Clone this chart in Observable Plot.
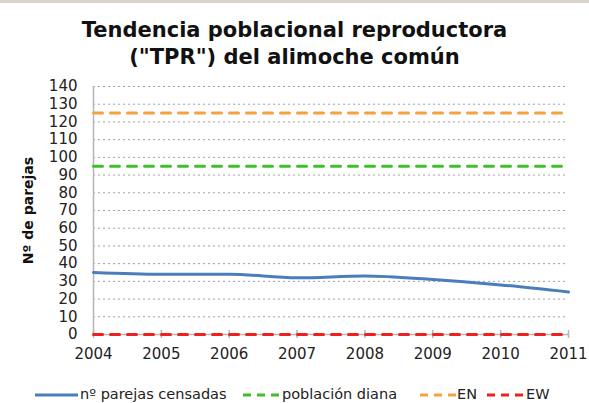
<!DOCTYPE html>
<html>
<head>
<meta charset="utf-8">
<script src="https://cdn.jsdelivr.net/npm/d3@7"></script>
<script src="https://cdn.jsdelivr.net/npm/@observablehq/plot@0.6"></script>
<style>
  html, body { margin: 0; padding: 0; background: #fff; overflow: hidden; }
  body { width: 589px; height: 403px; position: relative; font-family: "DejaVu Sans", Verdana, sans-serif; }
  #topbar { height: 3px; background: #d8d4cc; }
  #title { text-align: center; font-weight: bold; font-size: 21px; line-height: 27px; color: #111; padding-top: 14px; height: 58px; }
  #chart { height: 305px; }
  #legend { position: relative; height: 23px; font-size: 14.5px; color: #222; }
  .sw { position: absolute; top: 12px; }
  .lt { position: absolute; top: 6px; white-space: nowrap; line-height: 17px; }
</style>
</head>
<body>
<div id="topbar"></div>
<div id="title">Tendencia poblacional reproductora<br>("TPR") del alimoche común</div>
<div id="chart"></div>
<div id="legend"></div>
<script>
const years = [2004, 2005, 2006, 2007, 2008, 2009, 2010, 2011];
const censadas = [35, 34, 34, 32, 33, 31, 28, 24];
const diana = [95, 95, 95, 95, 95, 95, 95, 95];
const EN = [125, 125, 125, 125, 125, 125, 125, 125];
const EW = [0, 0, 0, 0, 0, 0, 0, 0];
const yTicks = [0, 10, 20, 30, 40, 50, 60, 70, 80, 90, 100, 110, 120, 130, 140];
const yLabel = "Nº de parejas";

const seriesNames = ["nº parejas censadas", "población diana", "EN", "EW"];
const seriesColors = ["#4a7ebb", "#3fbf2a", "#f5a13c", "#ee2020"];
const seriesDash = [null, "9,8", "9,8", "9,8"];

const rows = (vals) => years.map((y, i) => ({year: y, value: vals[i]}));

const plot = Plot.plot({
  width: 589,
  height: 305,
  marginLeft: 93,
  marginRight: 21,
  marginTop: 11,
  marginBottom: 46,
  style: {fontFamily: "DejaVu Sans, Verdana, sans-serif", fontSize: "15px", color: "#222", background: "white"},
  x: {domain: [years[0], years[years.length - 1]], ticks: years, tickFormat: d => String(d), tickSize: 0, tickPadding: 14, label: null},
  y: {domain: [0, 140], ticks: yTicks, tickSize: 0, tickPadding: 16, label: null},
  marks: [
    Plot.gridY(yTicks.filter(d => d > 0), {stroke: "#a0a0a0", strokeOpacity: 1, strokeDasharray: "2,3"}),
    Plot.ruleX([years[0]], {stroke: "#b5b5b5", strokeWidth: 1.5}),
    Plot.ruleY([0], {stroke: "#b5b5b5", strokeWidth: 1.5}),
    Plot.ruleX(years, {x: d => d, y1: 0, y2: 0, stroke: "#b5b5b5", strokeWidth: 1.5, insetTop: -4, insetBottom: -4}),
    Plot.lineY(rows(EN), {x: "year", y: "value", stroke: seriesColors[2], strokeWidth: 3, strokeDasharray: seriesDash[2]}),
    Plot.lineY(rows(diana), {x: "year", y: "value", stroke: seriesColors[1], strokeWidth: 3, strokeDasharray: seriesDash[1]}),
    Plot.lineY(rows(censadas), {x: "year", y: "value", stroke: seriesColors[0], strokeWidth: 3, curve: "monotone-x"}),
    Plot.lineY(rows(EW), {x: "year", y: "value", stroke: seriesColors[3], strokeWidth: 3, strokeDasharray: seriesDash[3]}),
    Plot.text([yLabel], {frameAnchor: "left", rotate: -90, dx: -65, textAnchor: "middle", fontWeight: "bold", fontSize: 14, fill: "#111"})
  ]
});
document.getElementById("chart").appendChild(plot);

const swatchX = [35, 243, 420, 487];
const swatchW = [43, 36, 36, 36];
const textX = [80, 282, 457, 526];
const legend = document.getElementById("legend");
seriesNames.forEach((name, i) => {
  const dash = seriesDash[i] ? `stroke-dasharray="8,6"` : "";
  const sw = document.createElement("div");
  sw.className = "sw";
  sw.style.left = swatchX[i] + "px";
  sw.innerHTML = `<svg width="${swatchW[i]}" height="6" style="display:block"><line x1="0" y1="3" x2="${swatchW[i]}" y2="3" stroke="${seriesColors[i]}" stroke-width="3" ${dash}/></svg>`;
  legend.appendChild(sw);
  const t = document.createElement("div");
  t.className = "lt";
  t.style.left = textX[i] + "px";
  t.textContent = name;
  legend.appendChild(t);
});
</script>
</body>
</html>
